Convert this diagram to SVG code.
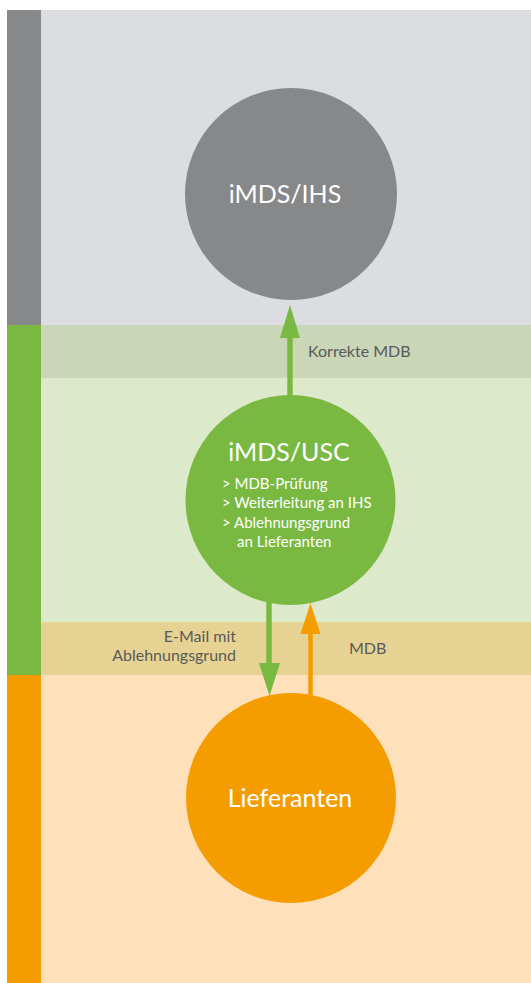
<svg xmlns="http://www.w3.org/2000/svg" width="531" height="983" viewBox="0 0 531 983">
<style>
.lbl{font-family:Lato,"Open Sans","Liberation Sans",sans-serif;fill:#5a5a5a;font-size:16px}
.big{font-family:Lato,"Open Sans","Liberation Sans",sans-serif;fill:#ffffff;font-size:25px}
.sm{font-family:Lato,"Open Sans","Liberation Sans",sans-serif;fill:#ffffff;font-size:15px}
</style>
<rect width="531" height="983" fill="#ffffff"/>
<g id="bands">
<rect x="41" y="10" width="490" height="315" fill="#dcdde0"/>
<rect x="41" y="325" width="490" height="53" fill="#c9d6b8"/>
<rect x="41" y="378" width="490" height="244" fill="#dde9cb"/>
<rect x="41" y="622" width="490" height="53" fill="#e6d393"/>
<rect x="41" y="675" width="490" height="308" fill="#fee1bb"/>
<rect x="7" y="10" width="34" height="315" fill="#87888a"/>
<rect x="7" y="325" width="34" height="350" fill="#7ab941"/>
<rect x="7" y="675" width="34" height="308" fill="#f59d00"/>
</g>
<g id="connectors">
<line x1="290" y1="400" x2="290" y2="336" stroke="#7ab941" stroke-width="5.5"/>
<polygon points="280,338 300,338 290,305" fill="#7ab941"/>
<line x1="269" y1="600" x2="269" y2="665" stroke="#7ab941" stroke-width="5.5"/>
<polygon points="259,663 280,663 269.5,696" fill="#7ab941"/>
<line x1="310.5" y1="700" x2="310.5" y2="632" stroke="#f59d00" stroke-width="4.5"/>
<polygon points="300.5,634 320.5,634 310.5,603" fill="#f59d00"/>
</g>
<g id="label-korrekte"><text class="lbl" x="308" y="357">Korrekte MDB</text></g>
<g id="label-email"><text class="lbl" x="236" y="642" text-anchor="end">E-Mail mit</text><text class="lbl" x="236" y="661" text-anchor="end">Ablehnungsgrund</text></g>
<g id="label-mdb"><text class="lbl" x="349" y="654">MDB</text></g>
<g id="node-ihs">
<circle cx="291" cy="194" r="106" fill="#87888a"/>
<text class="big" x="285" y="203" text-anchor="middle">iMDS/IHS</text>
</g>
<g id="node-usc">
<circle cx="290.5" cy="500" r="105" fill="#7ab941"/>
<text class="big" x="289" y="461" text-anchor="middle" font-size="24.5">iMDS/USC</text>
<text class="sm" x="222" y="489">&gt; MDB-Prüfung</text>
<text class="sm" x="222" y="508">&gt;  Weiterleitung an IHS</text>
<text class="sm" x="222" y="528">&gt;  Ablehnungsgrund</text>
<text class="sm" x="237" y="547">an Lieferanten</text>
</g>
<g id="node-lieferanten">
<circle cx="291" cy="798" r="105" fill="#f59d00"/>
<text class="big" x="290" y="807" text-anchor="middle">Lieferanten</text>
</g>
</svg>
